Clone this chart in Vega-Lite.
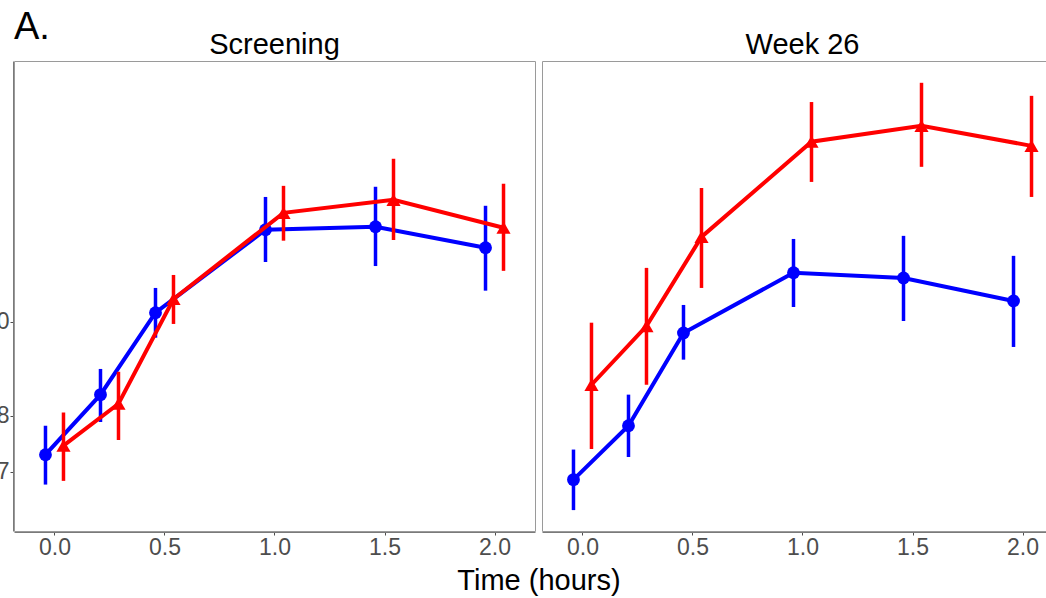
{
  "$schema": "https://vega.github.io/schema/vega-lite/v6.json",
  "padding": {"left": -17, "top": 9, "right": -16, "bottom": 0},
  "background": "white",
  "title": {"text": "A.", "anchor": "start", "frame": "group", "fontSize": 38, "font": "Liberation Sans", "fontWeight": "normal", "color": "black", "offset": -16},
  "data": {"values": [
    {"panel": "Screening", "group": "Group 1", "time": 0, "mean": 7.29, "lo": 6.79, "hi": 7.81},
    {"panel": "Screening", "group": "Group 1", "time": 0.25, "mean": 8.41, "lo": 7.88, "hi": 8.94},
    {"panel": "Screening", "group": "Group 1", "time": 0.5, "mean": 10.22, "lo": 9.63, "hi": 10.84},
    {"panel": "Screening", "group": "Group 1", "time": 1.0, "mean": 12.45, "lo": 11.53, "hi": 13.46},
    {"panel": "Screening", "group": "Group 1", "time": 1.5, "mean": 12.54, "lo": 11.42, "hi": 13.79},
    {"panel": "Screening", "group": "Group 1", "time": 2.0, "mean": 11.93, "lo": 10.77, "hi": 13.18},
    {"panel": "Screening", "group": "Group 2", "time": 0, "mean": 7.45, "lo": 6.85, "hi": 8.06},
    {"panel": "Screening", "group": "Group 2", "time": 0.25, "mean": 8.23, "lo": 7.55, "hi": 8.88},
    {"panel": "Screening", "group": "Group 2", "time": 0.5, "mean": 10.56, "lo": 9.95, "hi": 11.18},
    {"panel": "Screening", "group": "Group 2", "time": 1.0, "mean": 12.96, "lo": 12.13, "hi": 13.82},
    {"panel": "Screening", "group": "Group 2", "time": 1.5, "mean": 13.37, "lo": 12.15, "hi": 14.74},
    {"panel": "Screening", "group": "Group 2", "time": 2.0, "mean": 12.51, "lo": 11.29, "hi": 13.89},
    {"panel": "Week 26", "group": "Group 1", "time": 0, "mean": 6.87, "lo": 6.39, "hi": 7.38},
    {"panel": "Week 26", "group": "Group 1", "time": 0.25, "mean": 7.81, "lo": 7.25, "hi": 8.41},
    {"panel": "Week 26", "group": "Group 1", "time": 0.5, "mean": 9.74, "lo": 9.14, "hi": 10.41},
    {"panel": "Week 26", "group": "Group 1", "time": 1.0, "mean": 11.24, "lo": 10.36, "hi": 12.18},
    {"panel": "Week 26", "group": "Group 1", "time": 1.5, "mean": 11.10, "lo": 10.02, "hi": 12.27},
    {"panel": "Week 26", "group": "Group 1", "time": 2.0, "mean": 10.51, "lo": 9.42, "hi": 11.70},
    {"panel": "Week 26", "group": "Group 2", "time": 0, "mean": 8.61, "lo": 7.39, "hi": 9.98},
    {"panel": "Week 26", "group": "Group 2", "time": 0.25, "mean": 9.90, "lo": 8.61, "hi": 11.37},
    {"panel": "Week 26", "group": "Group 2", "time": 0.5, "mean": 12.24, "lo": 10.84, "hi": 13.75},
    {"panel": "Week 26", "group": "Group 2", "time": 1.0, "mean": 15.35, "lo": 13.95, "hi": 16.87},
    {"panel": "Week 26", "group": "Group 2", "time": 1.5, "mean": 15.94, "lo": 14.46, "hi": 17.66},
    {"panel": "Week 26", "group": "Group 2", "time": 2.0, "mean": 15.20, "lo": 13.46, "hi": 17.12}
  ]},
  "facet": {
    "column": {
      "field": "panel",
      "type": "nominal",
      "sort": ["Screening", "Week 26"],
      "header": {
        "title": "Time (hours)",
        "titleOrient": "bottom",
        "labelOrient": "top",
        "labelFontSize": 29,
        "labelFont": "Liberation Sans",
        "labelColor": "black",
        "labelPadding": 0,
        "titleFontSize": 29,
        "titleFont": "Liberation Sans",
        "titleFontWeight": "normal",
        "titleColor": "black",
        "titlePadding": -2
      }
    }
  },
  "spacing": 5,
  "spec": {
    "width": 521,
    "height": 470,
    "encoding": {
      "x": {
        "field": "time",
        "type": "quantitative",
        "scale": {"domain": [-0.184, 2.184], "nice": false, "zero": false},
        "axis": {"values": [0, 0.5, 1, 1.5, 2], "format": ".1f", "title": null}
      },
      "y": {
        "field": "mean",
        "type": "quantitative",
        "scale": {"type": "log", "domain": [6.08, 18.6], "nice": false, "zero": false},
        "axis": {"values": [7, 8, 10], "format": "d", "title": null}
      }
    },
    "layer": [
      {
        "transform": [{"filter": "datum.group === 'Group 1'"}],
        "layer": [
          {"mark": {"type": "rule", "color": "#0000ff", "strokeWidth": 3.5, "xOffset": -9}, "encoding": {"y": {"field": "lo", "type": "quantitative"}, "y2": {"field": "hi"}}},
          {"mark": {"type": "line", "color": "#0000ff", "strokeWidth": 4, "xOffset": -9}, "encoding": {}},
          {"mark": {"type": "point", "shape": "circle", "filled": true, "opacity": 1, "color": "#0000ff", "size": 165, "xOffset": -9}, "encoding": {}}
        ]
      },
      {
        "transform": [{"filter": "datum.group === 'Group 2'"}],
        "layer": [
          {"mark": {"type": "rule", "color": "#ff0000", "strokeWidth": 3.5, "xOffset": 9}, "encoding": {"y": {"field": "lo", "type": "quantitative"}, "y2": {"field": "hi"}}},
          {"mark": {"type": "line", "color": "#ff0000", "strokeWidth": 4, "xOffset": 9}, "encoding": {}},
          {"mark": {"type": "point", "shape": "triangle-up", "filled": true, "opacity": 1, "color": "#ff0000", "size": 200, "xOffset": 9}, "encoding": {}}
        ]
      }
    ]
  },
  "config": {
    "view": {"stroke": "#9a9a9a", "strokeWidth": 1},
    "font": "Liberation Sans",
    "axis": {
      "grid": false,
      "labelFont": "Liberation Sans",
      "labelFontSize": 23,
      "labelColor": "#4d4d4d",
      "tickColor": "#4d4d4d",
      "tickSize": 3,
      "domainColor": "#7a7a7a",
      "labelPadding": 1
    }
  }
}
